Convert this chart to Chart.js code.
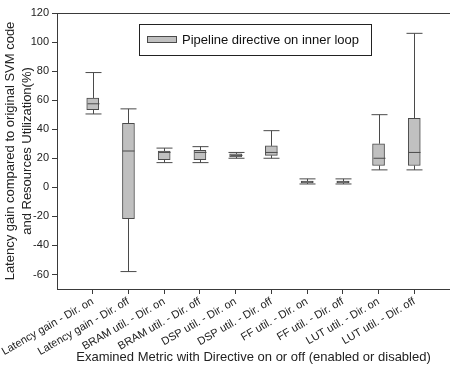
<!DOCTYPE html>
<html>
<head>
<meta charset="utf-8">
<script src="https://cdn.jsdelivr.net/npm/chart.js@4.4.1/dist/chart.umd.min.js"></script>
<style>
  html, body { margin: 0; padding: 0; background: #fff; }
  #wrap { width: 450px; height: 367px; }
</style>
</head>
<body>
<div id="wrap"><canvas id="box-chart" width="450" height="367"></canvas></div>
<script>
// Box plot values
const categories = ['Latency gain - Dir. on', 'Latency gain - Dir. off', 'BRAM util. - Dir. on', 'BRAM util. - Dir. off',
    'DSP util. - Dir. on', 'DSP util. - Dir. off', 'FF util. - Dir. on', 'FF util. - Dir. off',
    'LUT util. - Dir. on', 'LUT util. - Dir. off'];
const mins    = [50.5, -58, 17, 17, 20, 20, 2.3, 2.3, 12, 12];
const q1      = [53.5, -21.5, 19, 19, 21, 22, 3, 3, 15, 15];
const medians = [57.5, 25, 24, 24, 22, 24, 3.7, 3.7, 20, 24];
const q3      = [61.5, 44, 25, 25.5, 23, 28.5, 4.3, 4.3, 30, 47.5];
const maxs    = [79, 54, 27, 28, 24, 39, 5.8, 5.8, 50, 106];
const yTicks  = [-60, -40, -20, 0, 20, 40, 60, 80, 100, 120];
const seriesLabel = 'Pipeline directive on inner loop';

const FONT = 'Arial, "Liberation Sans", sans-serif';
const AXIS = '#3a3a3a';
const BOX_FILL = '#c0c0c0';
const BOX_LINE = '#4a4a4a';

// whiskers, caps and medians
const boxPlugin = {
    id: 'boxParts',
    afterDatasetsDraw(chart) {
        const { ctx, scales: { x, y } } = chart;
        ctx.save();
        ctx.strokeStyle = BOX_LINE;
        ctx.lineWidth = 1;
        categories.forEach((c, i) => {
            const px = Math.round(x.getPixelForValue(i + 1)) + 0.5;
            const line = (x1, y1, x2, y2) => {
                ctx.beginPath();
                ctx.moveTo(x1, y1);
                ctx.lineTo(x2, y2);
                ctx.stroke();
            };
            const yMin = y.getPixelForValue(mins[i]);
            const yMax = y.getPixelForValue(maxs[i]);
            line(px, y.getPixelForValue(q3[i]), px, yMax);
            line(px, y.getPixelForValue(q1[i]), px, yMin);
            line(px - 8, yMax, px + 8, yMax);
            line(px - 8, yMin, px + 8, yMin);
            const yMed = y.getPixelForValue(medians[i]);
            line(px - 6, yMed, px + 6, yMed);
        });
        ctx.restore();
    },
    afterDraw(chart) {
        const { ctx, chartArea } = chart;
        ctx.save();
        // top frame line
        ctx.strokeStyle = AXIS;
        ctx.lineWidth = 1;
        ctx.beginPath();
        ctx.moveTo(chartArea.left, chartArea.top + 0.5);
        ctx.lineTo(chartArea.right, chartArea.top + 0.5);
        ctx.stroke();

        // legend box
        ctx.strokeStyle = '#222';
        ctx.strokeRect(139.5, 24.5, 232, 31);
        ctx.fillStyle = BOX_FILL;
        ctx.fillRect(147, 36, 30, 7);
        ctx.strokeStyle = BOX_LINE;
        ctx.strokeRect(147.5, 36.5, 29, 6);
        ctx.fillStyle = '#111';
        ctx.font = '13px ' + FONT;
        ctx.textBaseline = 'middle';
        ctx.fillText(chart.data.datasets[0].label, 182, 40);
        ctx.restore();
    }
};

const chart = new Chart(document.getElementById('box-chart'), {
    type: 'bar',
    data: {
        datasets: [{
            label: seriesLabel,
            data: categories.map((c, i) => ({ x: i + 1, y: [q1[i], q3[i]] })),
            backgroundColor: BOX_FILL,
            borderColor: BOX_LINE,
            borderWidth: 1,
            borderSkipped: false,
            barThickness: 12
        }]
    },
    options: {
        responsive: false,
        animation: false,
        layout: { padding: { top: 13, right: 0, left: 0, bottom: 0 } },
        plugins: {
            legend: { display: false },
            tooltip: { enabled: false }
        },
        scales: {
            x: {
                type: 'linear',
                min: 0,
                max: 11,
                offset: false,
                afterBuildTicks: (scale) => {
                    scale.ticks = categories.map((c, i) => ({ value: i + 1 }));
                },
                afterFit: (scale) => {
                    scale.height = 78;
                    scale.paddingLeft = 0;
                    scale.paddingRight = 0;
                },
                grid: { display: true, offset: false, drawOnChartArea: false, drawTicks: true, tickLength: 5, color: AXIS },
                border: { display: true, color: AXIS, width: 1 },
                ticks: {
                    autoSkip: false,
                    minRotation: 30,
                    maxRotation: 30,
                    padding: 1,
                    color: '#222',
                    font: { family: FONT, size: 11 },
                    callback: (v) => categories[v - 1] || ''
                },
                title: {
                    display: true,
                    text: 'Examined Metric with Directive on or off (enabled or disabled)',
                    color: '#222',
                    font: { family: FONT, size: 13 },
                    padding: { top: 0, bottom: 2 }
                }
            },
            y: {
                min: -70,
                max: 120,
                afterBuildTicks: (scale) => {
                    scale.ticks = yTicks.map(v => ({ value: v }));
                },
                afterFit: (scale) => {
                    scale.width = 57;
                },
                grid: { display: true, drawOnChartArea: false, drawTicks: true, tickLength: 5, color: AXIS },
                border: { display: true, color: AXIS, width: 1 },
                ticks: {
                    padding: 3,
                    color: '#222',
                    font: { family: FONT, size: 11 }
                },
                title: {
                    display: true,
                    text: ['Latency gain compared to original SVM code', 'and Resources Utilization(%)'],
                    color: '#222',
                    font: { family: FONT, size: 13, lineHeight: 1.3 },
                    padding: { top: 2, bottom: 0 }
                }
            }
        }
    },
    plugins: [boxPlugin]
});
</script>
</body>
</html>
